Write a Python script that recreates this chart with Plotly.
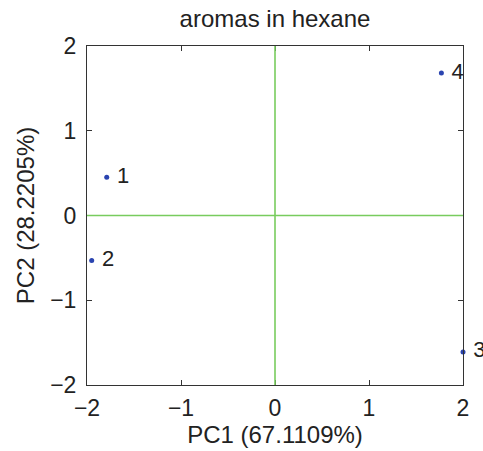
import plotly.graph_objects as go

# PCA scores for the four aroma samples
sample_ids = ["1", "2", "3", "4"]
pc1_scores = [-1.79, -1.95, 2.0, 1.77]
pc2_scores = [0.45, -0.53, -1.61, 1.68]

axis_ticks = [-2, -1, 0, 1, 2]

font_family = "Liberation Sans, Arial, Helvetica, sans-serif"
ink = "#222222"
frame = "#333333"
origin_green = "#78cc5e"

fig = go.Figure()

# green cross through the origin
fig.add_shape(type="line", xref="x", yref="y domain", x0=0, x1=0, y0=0, y1=1,
              line=dict(color=origin_green, width=1.6), layer="above")
fig.add_shape(type="line", xref="x domain", yref="y", x0=0, x1=1, y0=0, y1=0,
              line=dict(color=origin_green, width=1.6), layer="above")

fig.add_trace(go.Scatter(
    x=pc1_scores,
    y=pc2_scores,
    mode="markers+text",
    text=[" " + s for s in sample_ids],
    textposition="middle right",
    textfont=dict(size=22, color=ink, family=font_family),
    marker=dict(size=5, color="#2a44b0"),
    cliponaxis=False,
    showlegend=False,
))

axis_common = dict(
    range=[-2, 2],
    tickvals=axis_ticks,
    ticks="inside",
    ticklen=5,
    tickcolor=frame,
    showline=True,
    linecolor=frame,
    linewidth=1,
    mirror="ticks",
    showgrid=False,
    zeroline=False,
    tickfont=dict(size=23, color=ink, family=font_family),
)

fig.update_xaxes(
    **axis_common,
    ticklabelstandoff=2,
    title=dict(text="PC1 (67.1109%)", font=dict(size=24, color=ink, family=font_family), standoff=2),
)
fig.update_yaxes(
    **axis_common,
    ticklabelstandoff=5,
    title=dict(text="PC2 (28.2205%)", font=dict(size=24, color=ink, family=font_family), standoff=8),
)

fig.update_layout(
    width=483,
    height=451,
    margin=dict(l=87, r=20, t=46, b=66),
    paper_bgcolor="white",
    plot_bgcolor="white",
    title=dict(
        text="aromas in hexane",
        font=dict(size=24, color=ink, family=font_family),
        x=(87 + 463) / 2 / 483,
        xanchor="center",
        y=1 - 19 / 451,
        yanchor="middle",
    ),
)

fig.write_html("out.html")
